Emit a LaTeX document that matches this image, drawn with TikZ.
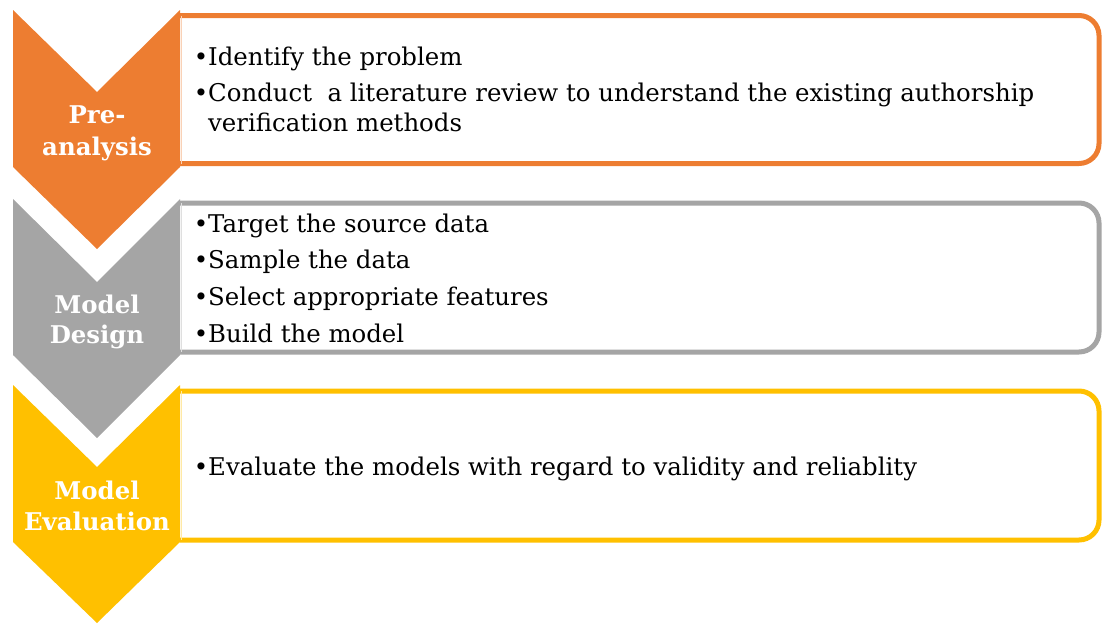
\documentclass[tikz,border=0pt]{standalone}
\usepackage{fontspec}
\setmainfont{DejaVu Serif}
\definecolor{orng}{HTML}{ED7D31}
\definecolor{gry}{HTML}{A5A5A5}
\definecolor{ylw}{HTML}{FFC000}
\tikzset{
  boxline/.style={line width=5pt, rounded corners=20pt},
  edgeline/.style={line width=1pt},
  itemtext/.style={anchor=base west, inner sep=0pt, font=\fontsize{24.4}{29}\selectfont, text=black},
  steplabel/.style={anchor=base, inner sep=0pt, font=\fontsize{24.4}{29}\selectfont\bfseries, text=white},
}
\begin{document}
\begin{tikzpicture}[x=1pt, y=-1pt]
\useasboundingbox (0,0) rectangle (1102,624);

% text boxes, open on the left where the chevrons sit
\draw[boxline, orng] (180,15.5) -- (1099,15.5) -- (1099,163.5) -- (180,163.5);
\draw[edgeline, orng!35] (181,15.5) -- (181,163.5);
\draw[boxline, gry] (180,203) -- (1099,203) -- (1099,352) -- (180,352);
\draw[edgeline, gry!35] (181,203) -- (181,352);
\draw[boxline, ylw] (180,391) -- (1099,391) -- (1099,540) -- (180,540);
\draw[edgeline, ylw!35] (181,391) -- (181,540);

% chevrons
\fill[orng] (13,10) -- (97,92) -- (180,10) -- (180,167) -- (97,249) -- (13,167) -- cycle;
\fill[gry] (13,199) -- (97,282) -- (180,199) -- (180,355) -- (97,438) -- (13,355) -- cycle;
\fill[ylw] (13,385) -- (97,467) -- (180,385) -- (180,542) -- (97,623) -- (13,542) -- cycle;

% step labels
\node[steplabel] (pre1) at (97,123) {Pre-};
\node[steplabel] (pre2) at (97,155) {analysis};
\node[steplabel] (des1) at (97,313) {Model};
\node[steplabel] (des2) at (97,343) {Design};
\node[steplabel] (eva1) at (97,499) {Model};
\node[steplabel] (eva2) at (97,530) {Evaluation};

% bullet items
\node[itemtext] (i1) at (208,65.5) {\llap{\textbullet}Identify the problem};
\node[itemtext] (i2) at (208,101.7) {\llap{\textbullet}Conduct\ \ a literature review to understand the existing authorship};
\node[itemtext] (i2b) at (208,131.7) {verification methods};
\node[itemtext] (d1) at (208,232) {\llap{\textbullet}Target the source data};
\node[itemtext] (d2) at (208,268) {\llap{\textbullet}Sample the data};
\node[itemtext] (d3) at (208,305) {\llap{\textbullet}Select appropriate features};
\node[itemtext] (d4) at (208,342) {\llap{\textbullet}Build the model};
\node[itemtext] (e1) at (208,475) {\llap{\textbullet}Evaluate the models with regard to validity and reliablity};
\end{tikzpicture}
\end{document}
